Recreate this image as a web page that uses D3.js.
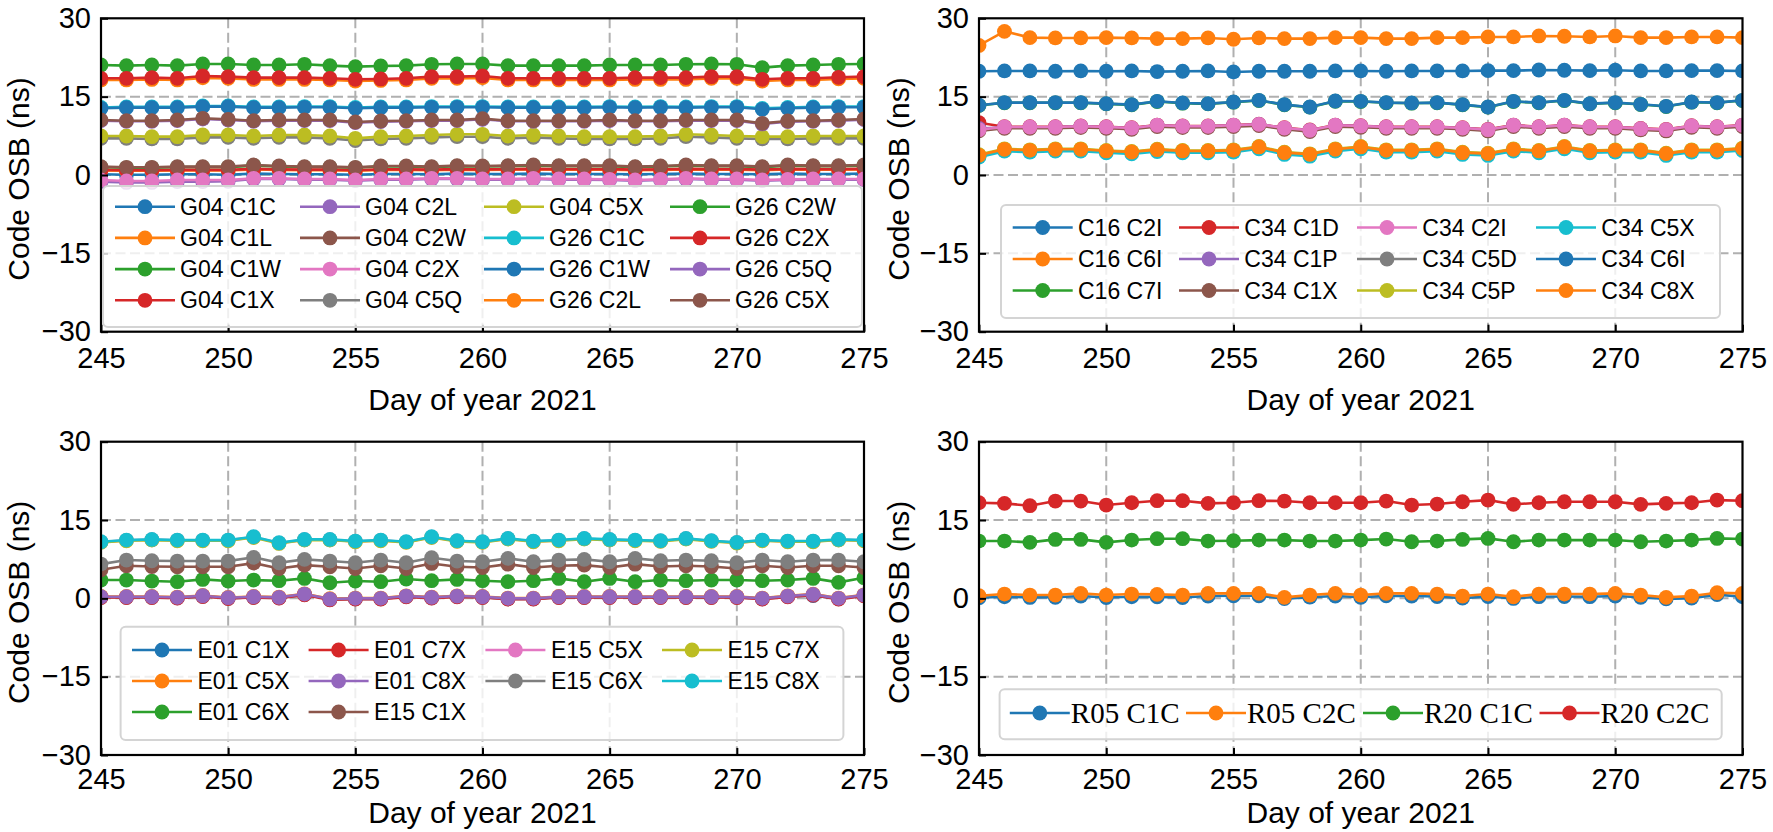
<!DOCTYPE html>
<html><head><meta charset="utf-8">
<script src="https://cdn.jsdelivr.net/npm/d3@7"></script>
<style>body{margin:0;background:#fff}svg{display:block}</style>
</head><body><svg id="c" width="1773" height="832"></svg>
<script>
// ---------- data ----------
const DAYS = [245,246,247,248,249,250,251,252,253,254,255,256,257,258,259,260,261,262,263,264,265,266,267,268,269,270,271,272,273,274,275];
const X_TICKS = [245,250,255,260,265,270,275];
const Y_TICKS = [30,15,0,-15,-30];
const X_GRID = [250,255,260,265,270];
const Y_GRID = [15,0,-15];

// GPS
const g04_c1c = [0.13,0.06,0.06,0.13,0.13,0.06,0.26,0.2,0.13,0.13,0.06,0.2,0.2,0.13,0.26,0.2,0.2,0.26,0.2,0.2,0.2,0.13,0.2,0.26,0.2,0.2,0.13,0.26,0.2,0.2,0.26];
const g04_c1l = [0.85,0.8,0.8,0.85,0.85,0.85,1.05,0.95,0.9,0.9,0.8,0.95,0.95,0.9,1.0,0.95,1.0,1.05,1.0,1.0,1.0,0.9,0.95,1.05,1.0,1.0,0.9,1.05,1.0,1.0,1.05];
const g04_c1w = [1.5,1.38,1.38,1.5,1.5,1.5,1.8,1.62,1.5,1.5,1.38,1.62,1.62,1.5,1.7,1.62,1.7,1.8,1.7,1.7,1.7,1.5,1.62,1.8,1.7,1.7,1.5,1.8,1.7,1.7,1.8];
const g04_c1x = [0.98,0.92,0.92,0.98,0.98,0.98,1.18,1.08,1.02,1.02,0.92,1.08,1.08,1.02,1.12,1.08,1.12,1.18,1.12,1.12,1.12,1.02,1.08,1.18,1.12,1.12,1.02,1.18,1.12,1.12,1.18];
const g04_c2l = [-1.28,-1.42,-1.42,-1.28,-1.28,-1.2,-0.78,-0.78,-0.9,-0.9,-1.08,-0.9,-0.9,-0.78,-0.78,-0.9,-0.9,-0.78,-0.9,-0.9,-0.96,-1.08,-0.96,-0.78,-0.9,-0.9,-1.08,-0.96,-0.9,-0.9,-0.9];
const g04_c2w = [1.6,1.47,1.47,1.6,1.6,1.6,1.91,1.72,1.6,1.6,1.47,1.72,1.72,1.6,1.79,1.72,1.79,1.91,1.79,1.79,1.79,1.6,1.72,1.91,1.79,1.79,1.6,1.91,1.79,1.79,1.91];
const g04_c2x = [-0.96,-1.15,-1.15,-0.96,-0.96,-0.96,-0.64,-0.64,-0.77,-0.77,-0.96,-0.77,-0.77,-0.64,-0.64,-0.77,-0.77,-0.64,-0.77,-0.77,-0.83,-0.96,-0.83,-0.64,-0.77,-0.77,-0.96,-0.83,-0.77,-0.77,-0.77];
const g04_c5q = [7.02,7.02,6.9,6.9,7.2,7.2,7.02,7.2,7.2,7.02,6.6,6.9,7.02,7.2,7.33,7.33,7.02,7.2,7.02,6.9,6.9,6.9,7.02,7.33,7.2,7.02,6.9,6.9,7.02,7.02,7.02];
const g04_c5x = [7.47,7.47,7.34,7.34,7.66,7.66,7.47,7.66,7.66,7.47,7.02,7.34,7.47,7.66,7.79,7.79,7.47,7.66,7.47,7.34,7.34,7.34,7.47,7.79,7.66,7.47,7.34,7.34,7.47,7.47,7.47];
const g26_c1c = [12.92,13.04,13.04,13.04,13.22,13.22,13.04,13.04,13.1,13.1,12.92,13.04,13.04,13.1,13.1,13.1,13.04,13.04,13.04,13.04,13.1,13.04,13.1,13.04,13.1,13.1,12.75,12.92,13.04,13.1,13.1];
const g26_c1w = [12.77,12.89,12.89,12.89,13.09,13.09,12.89,12.89,12.96,12.96,12.77,12.89,12.89,12.96,12.96,12.96,12.89,12.89,12.89,12.89,12.96,12.89,12.96,12.89,12.96,12.96,12.58,12.77,12.89,12.96,12.96];
const g26_c2l = [18.2,18.2,18.3,18.2,18.6,18.5,18.3,18.3,18.3,18.2,18.0,18.1,18.2,18.5,18.5,18.6,18.2,18.2,18.2,18.2,18.2,18.3,18.3,18.3,18.5,18.5,18.0,18.2,18.2,18.4,18.5];
const g26_c2w = [21.06,20.94,21.06,20.94,21.26,21.26,21.06,21.06,21.19,20.94,20.75,20.87,20.94,21.19,21.26,21.26,20.94,20.94,20.94,20.94,21.06,21.06,21.06,21.19,21.26,21.19,20.55,20.94,21.06,21.19,21.26];
const g26_c2x = [18.51,18.51,18.64,18.51,18.96,18.83,18.64,18.64,18.64,18.51,18.32,18.39,18.51,18.83,18.83,18.96,18.51,18.51,18.51,18.51,18.51,18.64,18.64,18.64,18.83,18.83,18.32,18.51,18.51,18.7,18.83];
const g26_c5q = [10.41,10.28,10.28,10.41,10.72,10.54,10.28,10.41,10.41,10.41,10.03,10.22,10.28,10.41,10.41,10.67,10.28,10.28,10.28,10.28,10.41,10.28,10.28,10.41,10.41,10.41,9.78,10.22,10.28,10.41,10.6];
const g26_c5x = [10.53,10.4,10.4,10.53,10.85,10.66,10.4,10.53,10.53,10.53,10.15,10.34,10.4,10.53,10.53,10.79,10.4,10.4,10.4,10.4,10.53,10.4,10.4,10.53,10.53,10.53,9.89,10.34,10.4,10.53,10.72];
const gpsNames = ["G04 C1C","G04 C1L","G04 C1W","G04 C1X","G04 C2L","G04 C2W","G04 C2X","G04 C5Q","G04 C5X","G26 C1C","G26 C1W","G26 C2L","G26 C2W","G26 C2X","G26 C5Q","G26 C5X"];
const gpsValues = [g04_c1c,g04_c1l,g04_c1w,g04_c1x,g04_c2l,g04_c2w,g04_c2x,g04_c5q,g04_c5x,g26_c1c,g26_c1w,g26_c2l,g26_c2w,g26_c2x,g26_c5q,g26_c5x];

// BDS
const c16_c2i = [19.86,19.92,19.92,19.86,19.92,19.86,19.92,19.8,19.86,19.92,19.73,19.86,19.86,19.86,19.92,19.92,19.86,19.92,19.92,19.92,19.98,19.98,20.1,20.05,19.98,20.05,19.92,19.92,19.98,19.98,19.92];
const c16_c6i = [24.8,27.5,26.3,26.24,26.24,26.3,26.24,26.11,26.11,26.24,25.99,26.24,26.11,26.11,26.3,26.3,26.11,26.11,26.3,26.3,26.43,26.43,26.62,26.56,26.43,26.62,26.3,26.3,26.43,26.43,26.3];
const c16_c7i = [13.3,13.82,13.82,13.82,13.82,13.62,13.43,14.06,13.75,13.62,13.94,14.25,13.43,12.98,14.12,14.06,13.82,13.75,13.82,13.43,12.98,14.06,13.82,14.25,13.62,13.82,13.5,13.1,13.94,13.82,14.25];
const c34_c1d = [10.0,9.25,9.25,9.25,9.38,9.25,9.05,9.56,9.38,9.38,9.56,9.74,9.05,8.62,9.56,9.44,9.25,9.25,9.25,9.05,8.74,9.56,9.25,9.56,9.25,9.25,8.92,8.74,9.44,9.25,9.56];
const c34_c1p = [8.9,9.15,9.15,9.15,9.3,9.15,8.96,9.48,9.3,9.3,9.48,9.68,8.96,8.52,9.48,9.35,9.15,9.15,9.15,8.96,8.64,9.48,9.15,9.48,9.15,9.15,8.84,8.64,9.35,9.15,9.48];
const c34_c1x = [8.45,8.95,8.95,8.95,9.08,8.95,8.75,9.27,9.08,9.08,9.27,9.46,8.75,8.31,9.27,9.14,8.95,8.95,8.95,8.75,8.43,9.27,8.95,9.27,8.95,8.95,8.62,8.43,9.14,8.95,9.27];
const c34_c2i = [8.68,9.19,9.19,9.19,9.33,9.19,9.0,9.52,9.33,9.33,9.52,9.71,9.0,8.56,9.52,9.39,9.19,9.19,9.19,9.0,8.68,9.52,9.19,9.52,9.19,9.19,8.87,8.68,9.39,9.19,9.52];
const c34_c5d = [3.7,4.85,4.66,4.85,4.85,4.54,4.34,4.79,4.54,4.54,4.66,5.3,4.22,3.9,4.85,5.3,4.66,4.66,4.85,4.22,4.03,4.85,4.54,5.3,4.54,4.66,4.66,4.03,4.66,4.66,4.98];
const c34_c5p = [3.9,5.02,4.82,5.02,5.02,4.7,4.5,4.95,4.7,4.7,4.82,5.47,4.38,4.06,5.02,5.47,4.82,4.82,5.02,4.38,4.19,5.02,4.7,5.47,4.7,4.82,4.82,4.19,4.82,4.82,5.15];
const c34_c5x = [3.42,4.57,4.37,4.57,4.57,4.25,4.05,4.5,4.25,4.25,4.37,5.02,3.93,3.61,4.57,5.02,4.37,4.37,4.57,3.93,3.74,4.57,4.25,5.02,4.25,4.37,4.37,3.74,4.37,4.37,4.7];
const c34_c6i = [13.35,13.86,13.86,13.86,13.86,13.66,13.47,14.11,13.79,13.66,13.98,14.3,13.47,13.02,14.17,14.11,13.86,13.79,13.86,13.47,13.02,14.11,13.86,14.3,13.66,13.86,13.54,13.15,13.98,13.86,14.3];
const c34_c8x = [3.77,4.92,4.72,4.92,4.92,4.6,4.4,4.85,4.6,4.6,4.72,5.37,4.28,3.96,4.92,5.37,4.72,4.72,4.92,4.28,4.09,4.92,4.6,5.37,4.6,4.72,4.72,4.09,4.72,4.72,5.05];
const bdsNames = ["C16 C2I","C16 C6I","C16 C7I","C34 C1D","C34 C1P","C34 C1X","C34 C2I","C34 C5D","C34 C5P","C34 C5X","C34 C6I","C34 C8X"];
const bdsValues = [c16_c2i,c16_c6i,c16_c7i,c34_c1d,c34_c1p,c34_c1x,c34_c2i,c34_c5d,c34_c5p,c34_c5x,c34_c6i,c34_c8x];

// Galileo
const e01_c1x = [0.21,0.21,0.21,0.09,0.4,0.02,0.21,0.09,0.72,-0.23,-0.1,-0.1,0.34,0.09,0.34,0.21,-0.1,-0.1,0.21,0.21,0.21,0.21,0.21,0.21,0.21,0.21,-0.1,0.34,0.55,-0.1,0.53];
const e01_c5x = [0.36,0.36,0.36,0.24,0.55,0.17,0.36,0.24,0.87,-0.08,0.05,0.05,0.49,0.24,0.49,0.36,0.05,0.05,0.36,0.36,0.36,0.36,0.36,0.36,0.36,0.36,0.05,0.49,0.81,0.05,0.68];
const e01_c6x = [3.5,3.5,3.31,3.19,3.63,3.31,3.5,3.38,3.82,2.99,3.31,3.19,3.7,3.38,3.63,3.38,3.19,3.38,3.82,3.19,3.82,3.19,3.5,3.38,3.5,3.5,3.38,3.5,3.82,3.06,3.95];
const e01_c7x = [0.16,0.16,0.16,0.04,0.35,-0.03,0.16,0.04,0.67,-0.28,-0.15,-0.15,0.29,0.04,0.29,0.16,-0.15,-0.15,0.16,0.16,0.16,0.16,0.16,0.16,0.16,0.16,-0.15,0.29,0.61,-0.15,0.48];
const e01_c8x = [0.31,0.31,0.31,0.19,0.5,0.12,0.31,0.19,0.82,-0.13,0,0,0.44,0.19,0.44,0.31,0,0,0.31,0.31,0.31,0.31,0.31,0.31,0.31,0.31,0,0.44,0.76,0,0.63];
const e15_c1x = [5.46,6.23,6.1,6.04,6.04,6.04,6.75,5.72,6.36,6.04,5.72,6.23,5.72,6.68,6.04,5.91,6.55,5.91,6.23,6.36,5.91,6.55,6.1,6.23,6.1,5.72,6.23,5.91,6.23,6.23,5.91];
const e15_c5x = [10.78,11.1,11.22,11.1,11.1,11.1,11.72,10.58,11.22,11.22,10.9,11.1,10.78,11.72,10.98,10.78,11.42,10.9,11.1,11.42,11.22,11.1,10.98,11.42,10.98,10.66,11.1,10.9,10.9,11.22,11.1];
const e15_c6x = [6.56,7.33,7.2,7.14,7.14,7.14,7.85,6.82,7.46,7.14,6.82,7.33,6.82,7.78,7.14,7.01,7.65,7.01,7.33,7.46,7.01,7.65,7.2,7.33,7.2,6.82,7.33,7.01,7.33,7.33,7.01];
const e15_c7x = [10.72,11.03,11.16,11.03,11.03,11.03,11.65,10.52,11.16,11.16,10.84,11.03,10.72,11.65,10.91,10.72,11.35,10.84,11.03,11.35,11.16,11.03,10.91,11.35,10.91,10.6,11.03,10.84,10.84,11.16,11.03];
const e15_c8x = [10.85,11.16,11.29,11.16,11.16,11.16,11.8,10.65,11.29,11.29,10.97,11.16,10.85,11.8,11.04,10.85,11.48,10.97,11.16,11.48,11.29,11.16,11.04,11.48,11.04,10.72,11.16,10.97,10.97,11.29,11.16];
const galNames = ["E01 C1X","E01 C5X","E01 C6X","E01 C7X","E01 C8X","E15 C1X","E15 C5X","E15 C6X","E15 C7X","E15 C8X"];
const galValues = [e01_c1x,e01_c5x,e01_c6x,e01_c7x,e01_c8x,e15_c1x,e15_c5x,e15_c6x,e15_c7x,e15_c8x];

// GLONASS
const r05_c1c = [0.12,0.3,0.18,0.2,0.45,0.15,0.3,0.28,0.15,0.45,0.5,0.5,-0.05,0.22,0.45,0.2,0.48,0.45,0.35,0.05,0.35,-0.02,0.32,0.35,0.32,0.45,0.2,-0.1,0.05,0.72,0.3];
const r05_c2c = [0.5,0.82,0.63,0.63,0.95,0.63,0.82,0.76,0.63,0.95,0.95,0.95,0.19,0.63,0.95,0.63,0.95,0.95,0.82,0.44,0.82,0.31,0.82,0.82,0.82,0.95,0.63,0.19,0.44,1.08,0.95];
const r20_c1c = [10.97,10.97,10.72,11.29,11.29,10.72,11.16,11.42,11.42,10.97,11.04,11.16,11.16,10.97,10.97,11.16,11.36,10.84,10.97,11.29,11.48,10.84,11.16,11.16,11.16,11.16,10.84,10.97,11.16,11.48,11.36];
const r20_c2c = [18.31,18.19,17.74,18.63,18.63,17.87,18.31,18.7,18.7,18.19,18.31,18.7,18.63,18.31,18.31,18.31,18.63,17.87,18.06,18.5,18.82,18.0,18.31,18.5,18.5,18.5,18.0,18.19,18.31,18.82,18.7];
const gloNames = ["R05 C1C","R05 C2C","R20 C1C","R20 C2C"];
const gloValues = [r05_c1c,r05_c2c,r20_c1c,r20_c2c];

const TAB10 = ["#1f77b4","#ff7f0e","#2ca02c","#d62728","#9467bd","#8c564b","#e377c2","#7f7f7f","#bcbd22","#17becf"];

// ---------- layout ----------
const SANS = "'Liberation Sans', Arial, sans-serif";
const SERIF = "'Liberation Serif', 'Times New Roman', serif";
const MR = 7.4;
const panels = [
  {names:gpsNames, values:gpsValues, x0:101, x1:864, y0:18.3, y1:331.7, ylabX:29, xlabY:410, tpad:16,
   leg:{box:[103,186,862,327], row0:206.7, dy:31.2, cols:[115,300,484,670], tdx:65, font:SANS, size:23, ncol:4}},
  {names:bdsNames, values:bdsValues, x0:979, x1:1742.5, y0:18.3, y1:331.7, ylabX:909, xlabY:410, tpad:16,
   leg:{box:[1001,205,1720,318], row0:227.5, dy:31.5, cols:[1012.7,1179,1357,1536], tdx:65.3, font:SANS, size:23, ncol:4}},
  {names:galNames, values:galValues, x0:101, x1:864, y0:441.7, y1:755, ylabX:29, xlabY:823, tpad:13.5,
   leg:{box:[120.6,626.7,843.4,740], row0:650, dy:31, cols:[132,308.6,485.4,662], tdx:65.5, font:SANS, size:23, ncol:4}},
  {names:gloNames, values:gloValues, x0:979, x1:1742.5, y0:441.7, y1:755, ylabX:909, xlabY:823, tpad:13.5,
   leg:{box:[999.6,689.3,1721.7,739.3], row0:713, dy:31, cols:[1009.8,1186,1363,1539.5], tdx:61, font:SERIF, size:29, ncol:4}}
];

const svg = d3.select("#c");
const fmt = d => d < 0 ? "\u2212" + Math.abs(d) : String(d);

panels.forEach((p, pi) => {
  const x = d3.scaleLinear().domain([245, 275]).range([p.x0, p.x1]);
  const y = d3.scaleLinear().domain([-30, 30]).range([p.y1, p.y0]);
  const g = svg.append("g");
  const clipId = "clip" + pi;
  g.append("clipPath").attr("id", clipId).append("rect")
    .attr("x", p.x0).attr("y", p.y0).attr("width", p.x1 - p.x0).attr("height", p.y1 - p.y0);

  // grid
  const grid = g.append("g").attr("stroke", "#b0b0b0").attr("stroke-width", 2)
    .attr("stroke-dasharray", "10,4.5").attr("fill", "none");
  X_GRID.forEach(t => grid.append("line").attr("x1", x(t)).attr("x2", x(t)).attr("y1", p.y0).attr("y2", p.y1));
  Y_GRID.forEach(t => grid.append("line").attr("x1", p.x0).attr("x2", p.x1).attr("y1", y(t)).attr("y2", y(t)));

  // series
  const dataG = g.append("g").attr("clip-path", `url(#${clipId})`);
  const line = d3.line().x((d, i) => x(DAYS[i])).y(d => y(d));
  p.values.forEach((vals, si) => {
    const col = TAB10[si % 10];
    const sg = dataG.append("g");
    sg.append("path").datum(vals).attr("d", line).attr("fill", "none")
      .attr("stroke", col).attr("stroke-width", 2.6).attr("stroke-linejoin", "round");
    sg.selectAll("circle").data(vals).join("circle")
      .attr("cx", (d, i) => x(DAYS[i])).attr("cy", d => y(d)).attr("r", MR).attr("fill", col);
  });

  // axes
  const ax = g.append("g").attr("transform", `translate(${p.x0},0)`)
    .call(d3.axisLeft(y).tickValues(Y_TICKS).tickSize(-7).tickPadding(10).tickFormat(fmt));
  const bx = g.append("g").attr("transform", `translate(0,${p.y1})`)
    .call(d3.axisBottom(x).tickValues(X_TICKS).tickSize(-7).tickPadding(p.tpad).tickFormat(fmt));
  [ax, bx].forEach(a => {
    a.select(".domain").remove();
    a.selectAll(".tick line").attr("stroke", "#000").attr("stroke-width", 2);
    a.selectAll(".tick text").attr("font-family", SANS).attr("font-size", 29).attr("fill", "#000");
  });

  // spines
  g.append("rect").attr("x", p.x0).attr("y", p.y0).attr("width", p.x1 - p.x0).attr("height", p.y1 - p.y0)
    .attr("fill", "none").attr("stroke", "#000").attr("stroke-width", 2.2);

  // labels
  g.append("text").attr("transform", `translate(${p.ylabX},${(p.y0 + p.y1) / 2 + 4}) rotate(-90)`)
    .attr("text-anchor", "middle").attr("font-family", SANS).attr("font-size", 30).text("Code OSB (ns)");
  g.append("text").attr("x", (p.x0 + p.x1) / 2).attr("y", p.xlabY)
    .attr("text-anchor", "middle").attr("font-family", SANS).attr("font-size", 30).text("Day of year 2021");

  // legend
  const L = p.leg;
  const lg = g.append("g");
  lg.append("rect").attr("x", L.box[0]).attr("y", L.box[1])
    .attr("width", L.box[2] - L.box[0]).attr("height", L.box[3] - L.box[1]).attr("rx", 5)
    .attr("fill", "#fff").attr("fill-opacity", 0.8).attr("stroke", "#d4d4d4").attr("stroke-width", 2);
  const n = p.names.length;
  const base = Math.floor(n / L.ncol), extra = n % L.ncol;
  const perCol = d3.range(L.ncol).map(c => base + (c < extra ? 1 : 0));
  let idx = 0;
  perCol.forEach((cnt, c) => {
    for (let r = 0; r < cnt; r++, idx++) {
      const col = TAB10[idx % 10];
      const hx = L.cols[c], hy = L.row0 + r * L.dy;
      lg.append("line").attr("x1", hx).attr("x2", hx + 60).attr("y1", hy).attr("y2", hy)
        .attr("stroke", col).attr("stroke-width", 2.6);
      lg.append("circle").attr("cx", hx + 30).attr("cy", hy).attr("r", MR).attr("fill", col);
      lg.append("text").attr("x", hx + L.tdx).attr("y", hy).attr("dy", "0.35em")
        .attr("font-family", L.font).attr("font-size", L.size).text(p.names[idx]);
    }
  });
});
</script></body></html>
